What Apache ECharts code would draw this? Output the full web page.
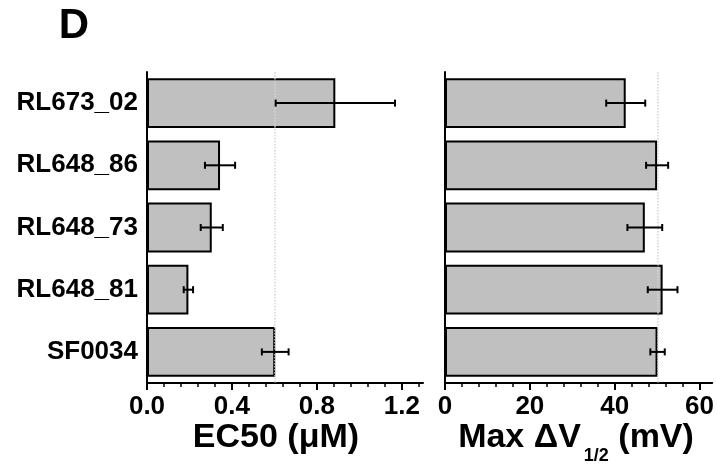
<!DOCTYPE html>
<html>
<head>
<meta charset="UTF-8">
<title>EC50 / Max dV1/2</title>
<script src="https://cdn.jsdelivr.net/npm/echarts@6/dist/echarts.min.js"></script>
<style>
  html, body { margin: 0; padding: 0; background: #fff; }
  #chart { width: 717px; height: 464px; }
</style>
</head>
<body>
<div id="chart"></div>
<script>
// compounds, top to bottom
var compounds = ['RL673_02', 'RL648_86', 'RL648_73', 'RL648_81', 'SF0034'];
// EC50 (uM) and error
var ec50 = [0.887, 0.344, 0.305, 0.195, 0.604];
var ec50Err = [0.281, 0.071, 0.052, 0.022, 0.063];
// Max dV1/2 (mV) and error
var dv = [42.6, 50.0, 47.1, 51.3, 50.1];
var dvErr = [4.6, 2.6, 4.1, 3.5, 1.7];
// tick labels
var ec50Ticks = [0, 0.4, 0.8, 1.2];
var dvTicks = [0, 20, 40, 60];

var FONT = "'Liberation Sans', Arial, Helvetica, sans-serif";
var chart = echarts.init(document.getElementById('chart'));

// error bar data: [low, high, index]
function errData(vals, errs) {
  var out = [];
  for (var i = 0; i < vals.length; i++) {
    out.push([vals[i] - errs[i], vals[i] + errs[i], i]);
  }
  return out;
}

function renderErr(params, api) {
  var lo = api.coord([api.value(0), api.value(2)]);
  var hi = api.coord([api.value(1), api.value(2)]);
  var cap = 3.5;
  var st = { stroke: '#000', lineWidth: 2 };
  return {
    type: 'group',
    children: [
      { type: 'line', shape: { x1: lo[0], y1: lo[1], x2: hi[0], y2: hi[1] }, style: st },
      { type: 'line', shape: { x1: lo[0], y1: lo[1] - cap, x2: lo[0], y2: lo[1] + cap }, style: st },
      { type: 'line', shape: { x1: hi[0], y1: hi[1] - cap, x2: hi[0], y2: hi[1] + cap }, style: st }
    ]
  };
}

function valueAxis(idx, max, interval, ticks, fmt) {
  return {
    type: 'value',
    gridIndex: idx,
    min: 0,
    max: max,
    interval: interval,
    axisLine: { show: true, lineStyle: { color: '#000', width: 2 } },
    axisTick: { show: true, length: 7, customValues: ticks, lineStyle: { color: '#000', width: 2 } },
    minorTick: { show: true, splitNumber: 5, length: 4, lineStyle: { color: '#000', width: 1.5 } },
    axisLabel: {
      customValues: ticks, formatter: fmt, margin: 11,
      color: '#000', fontSize: 26, fontWeight: 'bold', fontFamily: FONT
    },
    splitLine: { show: false }
  };
}

function catAxis(idx, showLabel) {
  return {
    type: 'category',
    gridIndex: idx,
    data: compounds,
    inverse: true,
    axisLine: { show: true, lineStyle: { color: '#000', width: 2 } },
    axisTick: { show: false },
    axisLabel: {
      show: showLabel, margin: 9,
      color: '#000', fontSize: 26, fontWeight: 'bold', fontFamily: FONT
    }
  };
}

function barSeries(idx, vals) {
  return {
    type: 'bar',
    xAxisIndex: idx,
    yAxisIndex: idx,
    data: vals,
    barWidth: '80%',
    itemStyle: { color: '#c0c0c0', borderColor: '#000', borderWidth: 2 },
    markLine: {
      silent: true,
      symbol: 'none',
      label: { show: false },
      lineStyle: { type: 'dotted', color: '#d4d4d4', width: 1.5 },
      data: [{ xAxis: vals[vals.length - 1] }]
    }
  };
}

var option = {
  animation: false,
  backgroundColor: '#fff',
  grid: [
    { left: 147, top: 72, width: 276, height: 311 },
    { left: 445, top: 72, width: 268, height: 311 }
  ],
  xAxis: [
    valueAxis(0, 1.3, 0.4, ec50Ticks, function (v) { return v.toFixed(1); }),
    valueAxis(1, 63, 20, dvTicks, function (v) { return String(v); })
  ],
  yAxis: [catAxis(0, true), catAxis(1, false)],
  series: [
    barSeries(0, ec50),
    barSeries(1, dv),
    {
      type: 'custom', xAxisIndex: 0, yAxisIndex: 0,
      renderItem: renderErr, data: errData(ec50, ec50Err),
      encode: { x: [0, 1], y: 2 }, z: 5
    },
    {
      type: 'custom', xAxisIndex: 1, yAxisIndex: 1,
      renderItem: renderErr, data: errData(dv, dvErr),
      encode: { x: [0, 1], y: 2 }, z: 5
    }
  ],
  graphic: [
    {
      type: 'text', x: 74, y: 26,
      style: { text: 'D', fill: '#000', fontSize: 42, fontWeight: 'bold', fontFamily: FONT,
               align: 'center', verticalAlign: 'middle' }
    },
    {
      type: 'text', x: 276, y: 438,
      style: { text: 'EC50 (μM)', fill: '#000', fontSize: 34, fontWeight: 'bold', fontFamily: FONT,
               align: 'center', verticalAlign: 'middle' }
    },
    {
      type: 'text', x: 576, y: 438,
      style: {
        text: '{a|Max ΔV}{s|1/2}{a| (mV)}',
        fill: '#000', align: 'center', verticalAlign: 'middle',
        rich: {
          a: { fontSize: 34, fontWeight: 'bold', fontFamily: FONT, fill: '#000' },
          s: { fontSize: 18, fontWeight: 'bold', fontFamily: FONT, fill: '#000', padding: [36, 0, 0, 3] }
        }
      }
    }
  ]
};

chart.setOption(option);
</script>
</body>
</html>
